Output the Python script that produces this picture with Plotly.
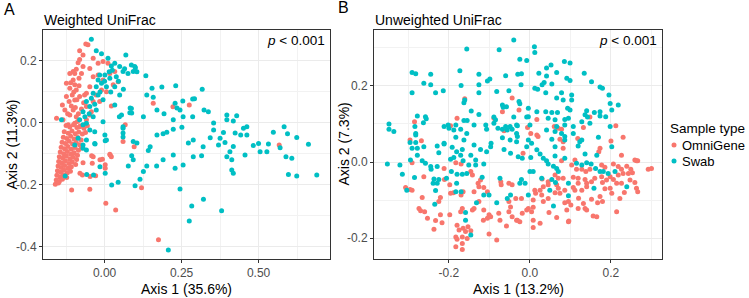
import plotly.graph_objects as go

# ---------------- data ----------------
series_names = ["OmniGene", "Swab"]
colors = {"OmniGene": "#F8766D", "Swab": "#00BFC4"}
legend_title = "Sample type"

# Panel A: Weighted UniFrac  (x = Axis 1, y = Axis 2)
A_omnigene = [
    (-0.061,0.255),(-0.054,0.252),(-0.081,0.233),(-0.07,0.219),(-0.081,0.205),(-0.086,0.194),
    (-0.092,0.173),(-0.102,0.166),(-0.113,0.16),(-0.097,0.16),(-0.07,0.182),(-0.075,0.16),
    (-0.083,0.144),(-0.102,0.139),(-0.124,0.128),(-0.113,0.112),(-0.097,0.123),(-0.092,0.106),
    (-0.105,0.09),(-0.124,0.085),(-0.115,0.069),(-0.097,0.074),(-0.081,0.085),(-0.137,0.058),
    (-0.129,0.042),(-0.102,0.042),(-0.113,0.026),(-0.092,0.02),(-0.156,0.015),(-0.135,0.01),
    (-0.118,-0.006),(-0.097,-0.001),(-0.081,-0.012),(-0.059,0.01),(-0.059,0.053),(-0.043,0.036),
    (-0.027,0.09),(-0.016,0.069),(-0.01,0.106),(0.006,0.101),(-0.005,0.139),(0.017,0.16),
    (0.033,0.166),(0.044,0.133),(0.028,0.123),(0.011,0.193),(-0.005,0.198),(-0.021,0.193),
    (-0.037,0.209),(-0.048,0.176),(-0.037,0.149),(-0.021,0.155),(-0.048,0.117),(-0.059,0.096),
    (-0.037,0.069),(0.022,0.055),(-0.048,0.026),
    (-0.12,0.03),(-0.108,0.055),(-0.095,0.05),(-0.085,0.03),(-0.075,0.045),(-0.09,0.075),
    (-0.1,0.1),(-0.083,0.12),(-0.065,0.09),(-0.11,0.13),(-0.068,0.065),(-0.088,0.005),
    # dense blob
    (-0.125,-0.008),(-0.113,-0.013),(-0.101,-0.006),(-0.09,-0.015),(-0.079,-0.01),(-0.067,-0.017),(-0.056,-0.009),
    (-0.131,-0.028),(-0.118,-0.033),(-0.106,-0.026),(-0.095,-0.035),(-0.084,-0.029),(-0.072,-0.036),(-0.062,-0.031),
    (-0.134,-0.046),(-0.123,-0.05),(-0.11,-0.043),(-0.099,-0.052),(-0.087,-0.047),(-0.076,-0.055),
    (-0.138,-0.062),(-0.127,-0.066),(-0.115,-0.059),(-0.104,-0.068),(-0.092,-0.063),(-0.081,-0.07),
    (-0.141,-0.078),(-0.13,-0.083),(-0.119,-0.076),(-0.108,-0.085),(-0.096,-0.079),(-0.085,-0.088),(-0.075,-0.081),
    (-0.144,-0.094),(-0.133,-0.099),(-0.121,-0.092),(-0.11,-0.101),(-0.099,-0.096),(-0.088,-0.104),
    (-0.147,-0.109),(-0.136,-0.114),(-0.124,-0.107),(-0.113,-0.116),(-0.102,-0.111),(-0.091,-0.118),
    (-0.149,-0.124),(-0.139,-0.129),(-0.127,-0.122),(-0.116,-0.131),(-0.105,-0.126),(-0.094,-0.134),
    (-0.151,-0.139),(-0.141,-0.144),(-0.13,-0.137),(-0.119,-0.146),(-0.108,-0.141),
    (-0.153,-0.154),(-0.143,-0.159),(-0.132,-0.152),(-0.121,-0.161),(-0.111,-0.156),
    (-0.155,-0.169),(-0.145,-0.174),(-0.134,-0.167),(-0.123,-0.176),
    (-0.157,-0.184),(-0.147,-0.189),(-0.137,-0.182),(-0.16,-0.198),(-0.15,-0.194),
    # sparse
    (-0.037,-0.109),(-0.007,-0.117),(0.022,-0.109),(0.017,-0.101),(-0.04,-0.13),(-0.07,-0.128),
    (-0.072,-0.168),(-0.029,-0.17),(-0.048,-0.214),(0.004,-0.259),(0.036,-0.281),(0.06,-0.06),
    (0.12,-0.209),(0.018,-0.103),(0.002,-0.135),(0.002,-0.146),(-0.042,-0.106),(-0.015,-0.119),
    (-0.047,-0.173),(-0.08,-0.162),(-0.107,-0.216),(0.175,-0.377),(0.096,-0.077),
    (0.158,0.064),(0.222,0.052),(0.275,0.058),(0.067,-0.006),(0.567,-0.071),
]
A_swab = [
    (-0.043,0.27),(-0.027,0.233),(-0.01,0.223),(0.011,0.209),(0.069,0.219),(0.022,0.184),
    (0.033,0.193),(0.049,0.182),(0.087,0.187),(0.098,0.182),(0.06,0.166),(0.076,0.16),
    (0.093,0.166),(0.038,0.149),(0.017,0.144),(0.001,0.155),(-0.016,0.155),(-0.021,0.139),
    (-0.01,0.128),(-0.027,0.117),(0.006,0.117),(-0.037,0.096),(-0.021,0.09),(-0.043,0.08),
    (-0.059,0.069),(-0.048,0.053),(-0.07,0.036),(-0.064,0.02),(-0.081,0.01),(-0.059,-0.001),
    (0.033,0.117),(0.049,0.09),(0.033,0.058),(0.055,0.026),(0.087,0.047),(0.082,0.033),
    (-0.005,0.004),(-0.037,0.02),(-0.027,0.042),(-0.14,0.01),(0.06,-0.012),
    (-0.05,0.03),(-0.032,0.06),(-0.015,0.1),(0.0,0.135),(0.015,0.165),(0.025,0.17),
    (-0.005,0.075),(0.02,0.1),(0.045,0.135),(0.065,0.175),(0.105,0.165),(0.1,0.178),
    (0.134,0.152),(0.186,0.116),(0.154,0.112),(0.137,0.09),(0.158,0.083),(0.231,0.12),
    (0.317,0.109),(0.061,0.109),(0.048,0.02),(0.083,0.048),(0.088,0.032),(0.126,0.02),
    (0.17,0.042),(0.193,0.03),(0.229,0.064),(0.235,0.048),(0.254,0.071),(0.286,0.077),
    (0.292,0.078),(0.255,0.02),(0.286,0.02),(0.245,0.042),(0.323,0.042),(0.337,0.036),
    (0.354,0.0),(0.397,0.026),(0.418,0.006),(0.424,-0.032),(0.462,-0.039),(0.223,0.01),
    (0.251,-0.014),(0.223,-0.02),(0.202,-0.03),(0.17,-0.039),(0.19,-0.035),(0.354,-0.023),
    (0.343,-0.048),(0.37,-0.071),(0.32,-0.077),(0.288,-0.055),(0.272,-0.065),(0.148,-0.077),
    (0.105,-0.065),(0.06,-0.032),(0.06,-0.045),
    (0.397,0.01),(0.386,-0.031),(0.375,-0.049),(0.391,-0.063),(0.429,0.023),(0.451,-0.017),
    (0.462,-0.012),(0.442,-0.039),(0.418,-0.076),(0.407,-0.093),(0.413,-0.119),(0.397,-0.109),
    (0.456,-0.103),(0.483,-0.073),(0.5,-0.066),(0.505,-0.093),(0.527,-0.093),(0.532,-0.068),
    (0.548,-0.03),(0.583,-0.012),(0.594,-0.035),(0.624,-0.047),(0.57,-0.08),(0.589,-0.109),
    (0.608,-0.114),(0.662,-0.069),(0.689,-0.168),(0.624,-0.171),(0.597,-0.166),(0.38,-0.283),
    (-0.07,-0.071),(-0.031,-0.068),(0.002,-0.057),(0.093,-0.06),(0.088,-0.106),(0.093,-0.119),
    (0.077,-0.139),(0.137,-0.139),(0.142,-0.089),(0.169,-0.139),(0.19,-0.119),(0.223,-0.103),
    (0.229,-0.146),(0.255,-0.136),(0.288,-0.109),(0.315,-0.106),(0.126,-0.157),(0.115,-0.182),
    (0.099,-0.203),(0.044,-0.191),(0.023,-0.2),(-0.015,-0.141),(0.002,-0.162),(-0.036,-0.168),
    (-0.058,-0.166),(0.245,-0.213),(0.321,-0.246),(0.283,-0.268),(0.275,-0.316),(0.207,-0.41),
    (-0.128,-0.171),(0.413,-0.152),(0.418,-0.162),
    (-0.07,-0.006),(-0.048,-0.023),(-0.032,-0.028),(-0.086,-0.049),(-0.059,-0.055),(-0.097,-0.071),
    (-0.07,-0.082),(-0.059,-0.087),(-0.032,-0.066),(0.001,-0.039),(0.006,-0.055),(0.06,-0.017),
]

# Panel B: Unweighted UniFrac
B_omnigene = [
    (-0.161,0.166),(-0.044,0.168),(-0.068,0.132),(-0.027,0.137),(-0.285,0.106),(-0.18,0.115),
    (-0.196,0.095),(-0.089,0.115),(-0.064,0.082),(-0.296,0.058),(-0.268,0.056),
    (0.017,0.112),(0.148,0.118),(-0.006,0.091),(0.002,0.075),(0.017,0.071),(0.02,0.067),
    (0.06,0.093),(0.07,0.089),(0.078,0.086),(0.132,0.091),(0.118,0.062),(0.074,0.06),
    (0.212,0.095),(0.23,0.065),(0.2,0.055),
    (-0.291,-0.002),(-0.212,-0.017),(-0.183,-0.002),(-0.17,-0.005),(-0.146,-0.025),(-0.142,-0.034),
    (-0.262,-0.039),(-0.307,-0.067),(-0.291,-0.074),(-0.296,-0.072),(-0.211,-0.046),(-0.198,-0.06),
    (-0.196,-0.082),(-0.189,-0.081),(-0.17,-0.087),(-0.165,-0.078),(-0.138,-0.078),(-0.128,-0.056),
    (-0.126,-0.065),(-0.114,-0.067),(-0.105,-0.078),(-0.122,-0.047),(-0.266,-0.093),(-0.221,-0.093),
    (-0.225,-0.104),(-0.274,-0.122),(-0.27,-0.128),(-0.26,-0.131),(-0.253,-0.148),(-0.233,-0.154),
    (-0.217,-0.16),(-0.237,-0.177),(-0.221,-0.139),(-0.198,-0.139),(-0.171,-0.131),(-0.167,-0.122),
    (-0.142,-0.126),(-0.138,-0.122),(-0.114,-0.126),(-0.101,-0.139),(-0.105,-0.148),(-0.097,-0.144),
    (-0.115,-0.153),(-0.18,-0.166),(-0.165,-0.174),(-0.153,-0.17),(-0.175,-0.179),(-0.159,-0.183),
    (-0.146,-0.181),(-0.183,-0.197),(-0.18,-0.203),(-0.167,-0.197),(-0.155,-0.201),(-0.183,-0.223),
    (-0.167,-0.214),(-0.167,-0.23),(-0.082,-0.205),(-0.101,-0.189),(-0.126,-0.104),(-0.077,-0.135),
    (-0.074,-0.153),(-0.072,-0.052),(-0.071,-0.06),(-0.052,-0.056),(-0.044,-0.06),(-0.052,-0.104),
    (-0.048,-0.118),(-0.052,-0.131),(-0.044,-0.144),(-0.031,-0.153),(-0.058,-0.168),
    (0.082,0.053),(0.082,0.036),(0.173,0.036),(0.17,0.027),(-0.017,0.023),(0.226,0.018),
    (0.259,0.005),(0.266,0.003),(0.292,-0.019),(0.111,0.005),(0.103,-0.008),(0.115,-0.019),
    (0.128,-0.019),(0.138,-0.025),(0.148,-0.019),(0.177,-0.008),(0.185,-0.014),(0.206,-0.005),
    (0.218,-0.012),(0.226,-0.019),(0.239,-0.011),(0.249,-0.019),(0.253,-0.028),(0.243,-0.03),
    (0.23,-0.03),(0.218,-0.034),(0.198,-0.039),(0.206,-0.046),(0.189,-0.047),(0.179,-0.054),
    (0.214,-0.056),(0.226,-0.056),(0.247,-0.047),(0.259,-0.054),(0.263,-0.069),(0.266,-0.078),
    (0.198,-0.069),(0.202,-0.082),(0.173,-0.091),(0.179,-0.104),(0.167,-0.107),(0.152,-0.098),
    (0.156,-0.142),(0.165,-0.144),(0.214,-0.131),(0.222,-0.096),(0.119,-0.056),(0.107,-0.067),
    (0.111,-0.074),(0.128,-0.074),(0.14,-0.065),(0.14,-0.056),(0.152,-0.052),(0.16,-0.043),
    (0.086,-0.074),(0.095,-0.104),(0.086,-0.107),(0.101,-0.113),(0.091,-0.126),(0.119,-0.122),
    (0.136,-0.122),(0.14,-0.126),(0.132,-0.109),(0.096,-0.155),(0.066,-0.06),(0.07,-0.069),
    (0.045,-0.06),(0.033,-0.065),(0.025,-0.074),(0.029,-0.087),(0.033,-0.104),(0.045,-0.096),
    (0.062,-0.081),(0.074,-0.082),(0.047,-0.133),(0.066,-0.146),(0.008,-0.1),(0.012,-0.074),
    (0.014,-0.082),(-0.021,-0.096),(-0.004,-0.122),(-0.008,-0.126),(0.008,-0.119),(0.004,-0.131),
    (-0.019,-0.135),(-0.033,-0.153),(-0.025,-0.157),(0.008,-0.153),(0.008,-0.172),(0.025,-0.161),
    (-0.035,-0.096),(0.045,-0.052),(0.082,-0.043),(0.078,0.003),(0.062,-0.034),(0.07,-0.043),
    (0.107,-0.04),(0.119,-0.043),(0.136,-0.046),(0.177,-0.039),(0.095,-0.157),(0.3,-0.017),
    (0.263,0.003),(0.185,-0.07),(0.233,-0.08),(0.12,-0.095),(0.03,-0.045),
]
B_swab = [
    (-0.04,0.321),(-0.156,0.297),(-0.076,0.295),(-0.291,0.235),(-0.282,0.232),(-0.245,0.231),
    (-0.173,0.24),(-0.126,0.231),(-0.06,0.227),(-0.03,0.231),(-0.262,0.207),(-0.245,0.203),
    (-0.17,0.201),(-0.105,0.213),(-0.099,0.218),(-0.126,0.203),(-0.291,0.182),(-0.233,0.182),
    (-0.214,0.187),(-0.126,0.182),(-0.082,0.185),(-0.052,0.187),(-0.161,0.163),(-0.163,0.156),
    (-0.068,0.15),(-0.066,0.144),(-0.058,0.145),(-0.027,0.159),(-0.145,0.134),(-0.126,0.125),
    (-0.278,0.121),(-0.258,0.119),(-0.256,0.114),(-0.263,0.103),(-0.163,0.109),(-0.155,0.109),
    (-0.089,0.118),(-0.085,0.111),(-0.04,0.118),(-0.348,0.1),(-0.348,0.086),(-0.336,0.08),
    (-0.284,0.093),(-0.282,0.075),(-0.282,0.071),(-0.212,0.093),(-0.202,0.097),(-0.2,0.089),
    (-0.188,0.084),(-0.183,0.097),(-0.171,0.086),(-0.156,0.075),(-0.138,0.097),(-0.109,0.097),
    (-0.107,0.086),(-0.089,0.102),(-0.079,0.089),(-0.068,0.086),(-0.06,0.093),(-0.056,0.084),
    (-0.049,0.093),(-0.044,0.086),(-0.068,0.064),(-0.049,0.058),(-0.183,0.065),(-0.163,0.058),
    (-0.031,0.095),(-0.031,0.067),(-0.296,0.051),(-0.282,0.051),(-0.212,0.049),(-0.096,0.049),
    (0.011,0.303),(0.012,0.288),(-0.025,0.27),(-0.008,0.267),(0.052,0.255),(0.085,0.264),
    (0.099,0.26),(0.041,0.247),(0.066,0.235),(0.022,0.233),(-0.021,0.232),(0.134,0.233),
    (0.041,0.226),(0.091,0.22),(0.099,0.214),(0.152,0.211),(0.035,0.209),(0.03,0.203),
    (0.054,0.205),(-0.022,0.203),(0.173,0.197),(0.179,0.194),(0.012,0.194),(0.019,0.191),
    (0.039,0.182),(0.078,0.182),(0.103,0.176),(0.195,0.176),(0.066,0.168),(0.082,0.163),
    (0.103,0.163),(0.198,0.154),(0.218,0.15),(-0.025,0.153),(-0.004,0.141),(0.093,0.141),
    (0.099,0.137),(0.14,0.135),(0.159,0.13),(0.173,0.132),(0.202,0.137),(0.017,0.132),
    (0.039,0.132),(0.054,0.13),(0.068,0.13),(0.136,0.124),(0.142,0.118),(0.173,0.121),
    (0.187,0.119),(-0.004,0.119),(-0.008,0.118),(0.045,0.115),(0.062,0.111),(0.086,0.112),
    (0.095,0.115),(0.128,0.106),(0.148,0.102),(0.198,0.093),(-0.033,0.097),(0.0,0.097),
    (0.066,0.093),(0.086,0.097),(0.107,0.093),(0.041,0.084),(0.062,0.08),(0.078,0.075),
    (0.086,0.067),(0.107,0.075),(0.169,0.065),(-0.033,0.075),(-0.004,0.058),(0.054,0.06),
    (0.086,0.058),(0.128,0.058),
    (-0.291,0.036),(-0.278,0.036),(-0.262,0.04),(-0.229,0.042),(-0.212,0.047),(-0.192,0.039),
    (-0.167,0.033),(-0.138,0.045),(-0.122,0.033),(-0.097,0.04),(-0.064,0.033),(-0.048,0.023),
    (-0.107,0.027),(-0.278,0.018),(-0.225,0.024),(-0.181,0.027),(-0.171,0.018),(-0.146,0.018),
    (-0.352,-0.005),(-0.321,-0.008),(-0.295,0.005),(-0.266,0.003),(-0.258,-0.003),(-0.245,-0.012),
    (-0.229,-0.012),(-0.244,-0.019),(-0.196,0.007),(-0.188,0.012),(-0.165,0.003),(-0.151,-0.008),
    (-0.134,0.005),(-0.134,-0.008),(-0.114,-0.005),(-0.194,-0.025),(-0.18,-0.032),(-0.167,-0.032),
    (-0.156,-0.03),(-0.181,-0.056),(-0.315,-0.032),(-0.285,-0.041),(-0.237,-0.045),(-0.225,-0.046),
    (-0.229,-0.056),(-0.206,-0.043),(-0.239,-0.056),(-0.304,-0.074),(-0.233,-0.075),(-0.183,-0.078),
    (-0.17,-0.078),(-0.235,-0.111),(-0.118,-0.04),(-0.114,-0.087),(-0.101,-0.087),(-0.132,-0.107),
    (-0.074,-0.043),(-0.082,-0.107),(-0.056,-0.096),(-0.048,-0.087),(-0.159,-0.133),(-0.159,-0.153),
    (-0.146,-0.192),
    (-0.008,0.04),(0.004,0.049),(-0.029,0.014),(-0.019,0.01),(0.002,0.012),(0.017,0.032),
    (0.025,0.021),(0.033,0.01),(0.041,0.003),(0.045,-0.005),(0.058,-0.011),(0.066,-0.017),
    (0.07,-0.025),(0.062,0.016),(0.086,0.01),(0.115,-0.003),(0.128,-0.008),(0.136,0.021),
    (0.14,-0.002),(0.151,-0.005),(0.162,-0.017),(0.173,-0.025),(0.181,-0.025),(0.193,-0.03),
    (0.21,-0.025),(0.0,-0.025),(0.008,-0.025),(0.029,-0.043),(0.054,-0.046),(0.063,-0.054),
    (0.095,-0.056),(-0.021,-0.046),(-0.025,-0.056),(-0.012,-0.056),(0.049,-0.074),(0.095,-0.089),
    (-0.004,-0.087),(0.058,-0.116),(0.239,-0.065),(0.158,-0.069),(0.202,0.04),(0.165,0.018),
    (0.119,0.042),(0.123,0.053),(0.062,0.04),(-0.033,0.053),
]

p_text = "<i>p</i> &lt; 0.001"

# ---------------- figure ----------------
W, H = 749, 298
FONT = "Liberation Sans, Arial, sans-serif"
def px(x): return x / W
def py(y): return 1 - y / H

fig = go.Figure()
panels = [("x", "y", A_omnigene, A_swab), ("x2", "y2", B_omnigene, B_swab)]
for i, (xa, ya, omni, swab) in enumerate(panels):
    for name, pts in zip(series_names, [omni, swab]):
        fig.add_trace(go.Scatter(
            x=[p[0] for p in pts], y=[p[1] for p in pts],
            mode="markers", name=name, legendgroup=name, showlegend=False,
            marker=dict(color=colors[name], size=5, line=dict(width=0)),
            xaxis=xa, yaxis=ya, hoverinfo="skip"))

grid = "#EBEBEB"
minor_grid = dict(showgrid=True, gridcolor="#F2F2F2", gridwidth=0.6)
common = dict(showline=True, mirror=True, linecolor="#333333", linewidth=1,
              zeroline=False, showgrid=True, gridcolor=grid, gridwidth=1,
              ticks="outside", ticklen=3, tickcolor="#333333", tickwidth=1,
              tickfont=dict(family=FONT, size=12, color="#4D4D4D"))

fig.update_layout(
    width=W, height=H, margin=dict(l=0, r=0, t=0, b=0),
    paper_bgcolor="white", plot_bgcolor="white",
    font=dict(family=FONT, color="black"),
    xaxis=dict(domain=[px(43), px(330)], range=[-0.2, 0.732],
               tickvals=[0, 0.25, 0.5], ticktext=["0.00", "0.25", "0.50"],
               minor=dict(tickvals=[-0.125, 0.125, 0.375, 0.625], **minor_grid),
               anchor="y", **common),
    yaxis=dict(domain=[py(259), py(30)], range=[-0.439, 0.30],
               tickvals=[-0.4, -0.2, 0, 0.2], ticktext=["-0.4", "-0.2", "0.0", "0.2"],
               minor=dict(tickvals=[-0.3, -0.1, 0.1], **minor_grid),
               anchor="x", **common),
    xaxis2=dict(domain=[px(374), px(662)], range=[-0.385, 0.326],
                tickvals=[-0.2, 0, 0.2], ticktext=["-0.2", "0.0", "0.2"],
                minor=dict(tickvals=[-0.3, -0.1, 0.1, 0.3], **minor_grid),
                anchor="y2", **common),
    yaxis2=dict(domain=[py(259), py(30)], range=[-0.255, 0.347],
                tickvals=[-0.2, 0, 0.2], ticktext=["-0.2", "0.0", "0.2"],
                minor=dict(tickvals=[-0.1, 0.1, 0.3], **minor_grid),
                anchor="x2", **common),
    showlegend=False,
)

ann = []
def text(t, x, y, size, xanchor="center", yanchor="middle", angle=0, color="black"):
    ann.append(dict(text=t, x=px(x), y=py(y), xref="paper", yref="paper", showarrow=False,
                    xanchor=xanchor, yanchor=yanchor, textangle=angle,
                    font=dict(family=FONT, size=size, color=color)))

text("A", 2, 9, 16, xanchor="left")
text("B", 336, 8, 16, xanchor="left")
text("Weighted UniFrac", 42, 20, 14, xanchor="left")
text("Unweighted UniFrac", 373, 20, 14, xanchor="left")
text(p_text, 327, 41, 13.5, xanchor="right")
text(p_text, 659, 41, 13.5, xanchor="right")
text("Axis 1 (35.6%)", 186.5, 288.5, 14)
text("Axis 1 (13.2%)", 518, 288.5, 14)
text("Axis 2 (11.3%)", 11, 144.5, 14, angle=-90)
text("Axis 2 (7.3%)", 343, 144.5, 14, angle=-90)

# legend (key glyphs + labels)
text(legend_title, 668, 128, 13.5, xanchor="left")
shapes = []
for k, name in enumerate(series_names):
    yk = 145 + 16 * k
    shapes.append(dict(type="circle", xref="paper", yref="paper",
                       x0=px(671.5), x1=px(676.5), y0=py(yk + 2.5), y1=py(yk - 2.5),
                       fillcolor=colors[name], line=dict(width=0)))
    text(name, 680, yk, 13, xanchor="left")

fig.update_layout(annotations=ann, shapes=shapes)

fig.write_html("out.html", config={"displayModeBar": False},
               post_script="document.body.style.margin='0px';")
